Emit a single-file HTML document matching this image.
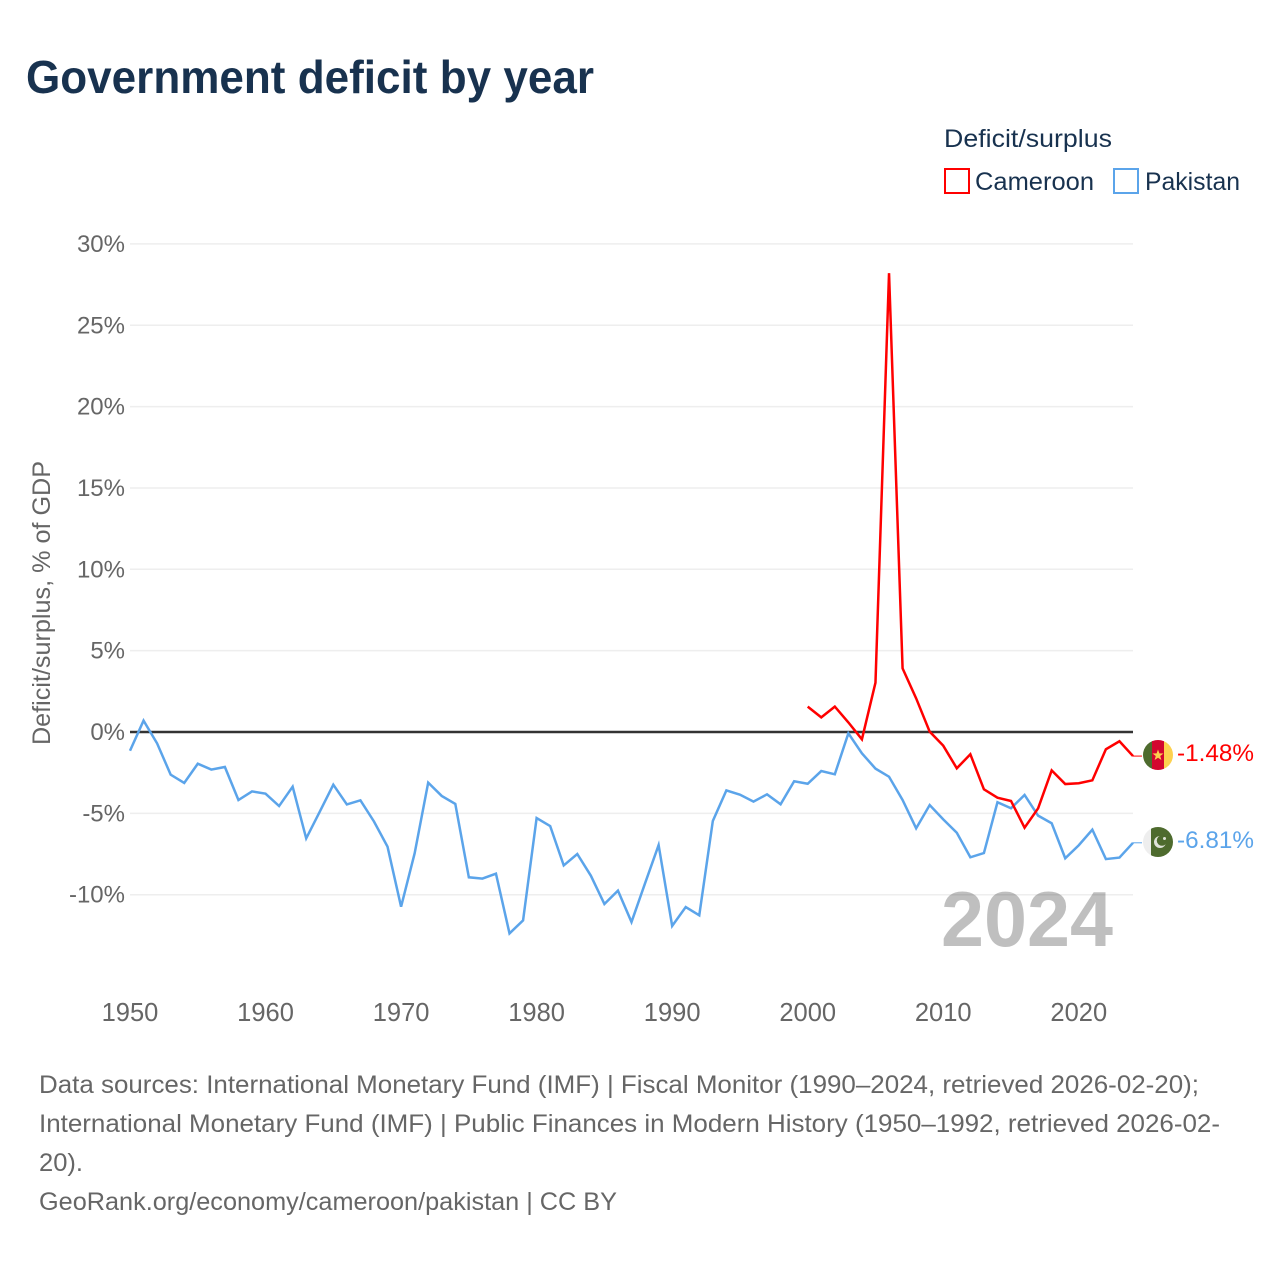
<!DOCTYPE html>
<html lang="en">
<head>
<meta charset="utf-8">
<title>Government deficit by year</title>
<style>
html,body{margin:0;padding:0;background:#fff;width:1280px;height:1280px;overflow:hidden}
svg{display:block;font-family:"Liberation Sans",sans-serif}
</style>
</head>
<body>
<svg id="chart" xmlns="http://www.w3.org/2000/svg" width="1280" height="1280" viewBox="0 0 1280 1280">
  <rect x="0" y="0" width="1280" height="1280" fill="#ffffff"/>
  <text x="26" y="93" font-size="46" font-weight="700" fill="#18324f" textLength="568" lengthAdjust="spacingAndGlyphs">Government deficit by year</text>

  <g>
    <text x="944" y="147" font-size="25" fill="#18324f" textLength="168" lengthAdjust="spacingAndGlyphs">Deficit/surplus</text>
    <g>
      <rect x="945" y="169" width="24" height="24" fill="#ffffff" stroke="#ff0000" stroke-width="2"/>
      <text x="975" y="190" font-size="25" fill="#18324f" textLength="119" lengthAdjust="spacingAndGlyphs">Cameroon</text>
    </g>
    <g>
      <rect x="1114" y="169" width="24" height="24" fill="#ffffff" stroke="#5ba4ea" stroke-width="2"/>
      <text x="1145" y="190" font-size="25" fill="#18324f" textLength="95" lengthAdjust="spacingAndGlyphs">Pakistan</text>
    </g>
  </g>

  <text transform="translate(50,745) rotate(-90)" x="0" y="0" font-size="25" fill="#666666" textLength="284" lengthAdjust="spacingAndGlyphs">Deficit/surplus, % of GDP</text>

  <g id="grid"></g>
  <g id="yticks"></g>
  <g id="xticks"></g>
  <text x="941" y="946" font-size="78" font-weight="700" fill="#000000" fill-opacity="0.25" textLength="172" lengthAdjust="spacingAndGlyphs">2024</text>
  <g id="series"></g>

  <defs>
    <clipPath id="clip-cm"><circle cx="1158" cy="755" r="15"/></clipPath>
    <clipPath id="clip-pk"><circle cx="1158" cy="842" r="15"/></clipPath>
  </defs>
  <g clip-path="url(#clip-cm)">
    <rect x="1143" y="740" width="10" height="30" fill="#4e6b2e"/>
    <rect x="1152" y="740" width="12" height="30" fill="#d3062f"/>
    <rect x="1164" y="740" width="10" height="30" fill="#fdd14f"/>
    <polygon points="1158,749.5 1159.4,753.4 1163.5,753.5 1160.2,756 1161.4,760 1158,757.7 1154.6,760 1155.8,756 1152.5,753.5 1156.6,753.4" fill="#fdd14f"/>
  </g>
  <g clip-path="url(#clip-pk)">
    <rect x="1143" y="827" width="8" height="30" fill="#eeeeee"/>
    <rect x="1151" y="827" width="23" height="30" fill="#4e6b2e"/>
    <circle cx="1160" cy="842" r="6" fill="#dfe3d8"/>
    <circle cx="1162" cy="840.6" r="5.2" fill="#4e6b2e"/>
    <circle cx="1164.5" cy="838.5" r="1.5" fill="#dfe3d8"/>
  </g>
  <text id="label-cm" x="1177" y="761" font-size="24" fill="#ff0000" textLength="77" lengthAdjust="spacingAndGlyphs"></text>
  <text id="label-pk" x="1177" y="848" font-size="24" fill="#5ba4ea" textLength="77" lengthAdjust="spacingAndGlyphs"></text>

  <g font-size="25" fill="#666666">
    <text x="39" y="1093" textLength="1160" lengthAdjust="spacingAndGlyphs">Data sources: International Monetary Fund (IMF) | Fiscal Monitor (1990–2024, retrieved 2026-02-20);</text>
    <text x="39" y="1132" textLength="1181" lengthAdjust="spacingAndGlyphs">International Monetary Fund (IMF) | Public Finances in Modern History (1950–1992, retrieved 2026-02-</text>
    <text x="39" y="1171" textLength="44" lengthAdjust="spacingAndGlyphs">20).</text>
    <text x="39" y="1210" textLength="578" lengthAdjust="spacingAndGlyphs">GeoRank.org/economy/cameroon/pakistan | CC BY</text>
  </g>
</svg>
<script>
var yTickValues = [30, 25, 20, 15, 10, 5, 0, -5, -10];
var xTickYears = [1950, 1960, 1970, 1980, 1990, 2000, 2010, 2020];
var pakistanStartYear = 1950;
var pakistanValues = [
  -1.15, 0.7, -0.7, -2.62, -3.13, -1.95, -2.31, -2.15, -4.18, -3.65,
  -3.79, -4.55, -3.36, -6.54, -4.9, -3.24, -4.45, -4.2, -5.5, -7.05,
  -10.74, -7.46, -3.11, -3.93, -4.42, -8.93, -9.01, -8.71, -12.38, -11.58,
  -5.29, -5.78, -8.2, -7.5, -8.83, -10.57, -9.75, -11.68, -9.3, -6.95,
  -11.92, -10.76, -11.27, -5.47, -3.59, -3.85, -4.28, -3.83, -4.44, -3.03,
  -3.18, -2.4, -2.6, -0.08, -1.31, -2.25, -2.75, -4.18, -5.92, -4.49,
  -5.37, -6.19, -7.7, -7.44, -4.32, -4.69, -3.87, -5.14, -5.61, -7.76,
  -6.96, -6.0, -7.81, -7.72, -6.81
];
var cameroonStartYear = 2000;
var cameroonValues = [
  1.56, 0.9, 1.56, 0.59, -0.45, 3.03, 28.2, 3.91, 2.07, 0.02,
  -0.84, -2.23, -1.37, -3.52, -4.04, -4.24, -5.88, -4.69, -2.36, -3.2,
  -3.15, -2.97, -1.06, -0.57, -1.48
];
var cameroonEndLabel = "-1.48%";
var pakistanEndLabel = "-6.81%";

var SVGNS = "http://www.w3.org/2000/svg";
var xMinYear = 1950, xMaxYear = 2024, xLeft = 130, xRight = 1133;
var yZero = 732, pxPerPercent = 16.27;

function xScale(year) {
  return xLeft + (year - xMinYear) / (xMaxYear - xMinYear) * (xRight - xLeft);
}
function yScale(value) {
  return yZero - value * pxPerPercent;
}
function svgEl(tag) {
  return document.createElementNS(SVGNS, tag);
}

var gridGroup = document.getElementById("grid");
var yTickGroup = document.getElementById("yticks");
yTickValues.forEach(function (v) {
  var line = svgEl("line");
  
  
  line.setAttribute("x1", xLeft);
  line.setAttribute("x2", xRight);
  line.setAttribute("y1", yScale(v));
  line.setAttribute("y2", yScale(v));
  line.setAttribute("stroke", v === 0 ? "#333333" : "#eeeeee");
  line.setAttribute("stroke-width", v === 0 ? 2.4 : 1.5);
  gridGroup.appendChild(line);

  var label = svgEl("text");
  
  
  label.setAttribute("x", 125);
  label.setAttribute("y", yScale(v) + 8);
  label.setAttribute("text-anchor", "end");
  label.setAttribute("font-size", 24);
  label.setAttribute("fill", "#666666");
  label.textContent = v + "%";
  yTickGroup.appendChild(label);
});

var xTickGroup = document.getElementById("xticks");
xTickYears.forEach(function (yr) {
  var label = svgEl("text");
  
  
  label.setAttribute("x", xScale(yr));
  label.setAttribute("y", 1021);
  label.setAttribute("text-anchor", "middle");
  label.setAttribute("font-size", 25.5);
  label.setAttribute("fill", "#666666");
  label.textContent = String(yr);
  xTickGroup.appendChild(label);
});

function buildPoints(startYear, values) {
  return values.map(function (v, i) {
    return xScale(startYear + i).toFixed(2) + "," + yScale(v).toFixed(2);
  }).join(" ");
}

var seriesGroup = document.getElementById("series");

var pakistanLine = svgEl("polyline");


pakistanLine.setAttribute("points", buildPoints(pakistanStartYear, pakistanValues));
pakistanLine.setAttribute("fill", "none");
pakistanLine.setAttribute("stroke", "#5ba4ea");
pakistanLine.setAttribute("stroke-width", 2.5);
pakistanLine.setAttribute("stroke-linejoin", "miter");
seriesGroup.appendChild(pakistanLine);

var cameroonLine = svgEl("polyline");


cameroonLine.setAttribute("points", buildPoints(cameroonStartYear, cameroonValues));
cameroonLine.setAttribute("fill", "none");
cameroonLine.setAttribute("stroke", "#ff0000");
cameroonLine.setAttribute("stroke-width", 2.5);
cameroonLine.setAttribute("stroke-linejoin", "miter");
seriesGroup.appendChild(cameroonLine);

var pakistanLeader = svgEl("line");


pakistanLeader.setAttribute("x1", xRight);
pakistanLeader.setAttribute("x2", 1142);
pakistanLeader.setAttribute("y1", yScale(pakistanValues[pakistanValues.length - 1]));
pakistanLeader.setAttribute("y2", yScale(pakistanValues[pakistanValues.length - 1]));
pakistanLeader.setAttribute("stroke", "#5ba4ea");
pakistanLeader.setAttribute("stroke-width", 1);
seriesGroup.appendChild(pakistanLeader);

var cameroonLeader = svgEl("line");


cameroonLeader.setAttribute("x1", xRight);
cameroonLeader.setAttribute("x2", 1142);
cameroonLeader.setAttribute("y1", yScale(cameroonValues[cameroonValues.length - 1]));
cameroonLeader.setAttribute("y2", yScale(cameroonValues[cameroonValues.length - 1]));
cameroonLeader.setAttribute("stroke", "#ff0000");
cameroonLeader.setAttribute("stroke-width", 1);
seriesGroup.appendChild(cameroonLeader);

document.getElementById("label-cm").textContent = cameroonEndLabel;
document.getElementById("label-pk").textContent = pakistanEndLabel;
</script>
</body>
</html>
